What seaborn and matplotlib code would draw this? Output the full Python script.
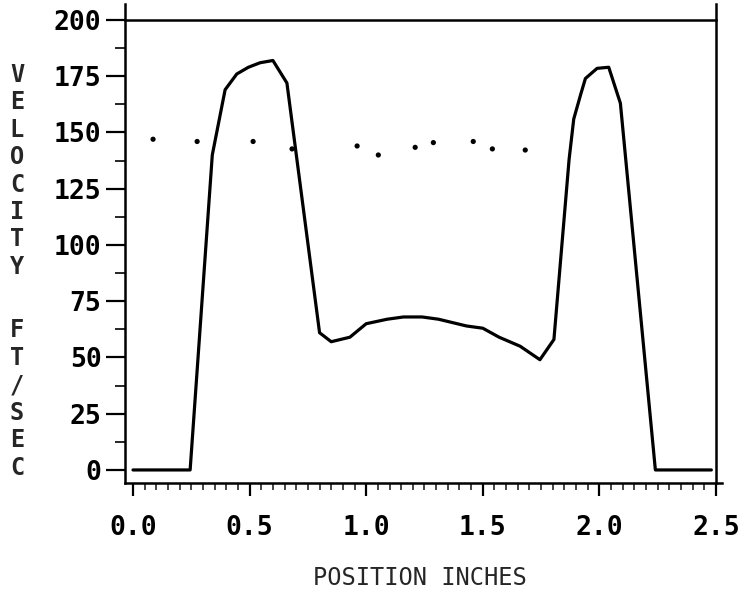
import numpy as np
import pandas as pd
import matplotlib
matplotlib.use("Agg")
import matplotlib.pyplot as plt
import seaborn as sns
from matplotlib.ticker import MultipleLocator

# ---- data ----
position = [0.0, 0.245, 0.34, 0.395, 0.445, 0.495, 0.545, 0.60, 0.63, 0.66,
            0.80, 0.85, 0.93, 1.0, 1.09, 1.16, 1.24, 1.31, 1.43, 1.50, 1.57, 1.66,
            1.745, 1.805, 1.87, 1.89, 1.92, 1.94, 1.99, 2.04, 2.09, 2.24, 2.48]
velocity = [0, 0, 140, 169, 176, 179, 181, 182, 177, 172,
            61, 57, 59, 65, 67, 68, 68, 67, 64, 63, 59, 55,
            49, 58, 138, 156, 167, 174, 178.5, 179, 163, 0, 0]

dot_position = [0.086, 0.275, 0.515, 0.682, 0.961, 1.052, 1.21, 1.288, 1.459, 1.541, 1.682]
dot_velocity = [147, 146, 146, 142.7, 144, 140, 143.4, 145.5, 146, 142.7, 142.2]

x_ticks = [0.0, 0.5, 1.0, 1.5, 2.0, 2.5]
x_tick_labels = ["0.0", "0.5", "1.0", "1.5", "2.0", "2.5"]
y_ticks = [0, 25, 50, 75, 100, 125, 150, 175, 200]
y_tick_labels = ["0", "25", "50", "75", "100", "125", "150", "175", "200"]
y_label_top = list("VELOCITY")
y_label_bottom = list("FT/SEC")
x_label = "POSITION INCHES"

sns.set_theme(style="ticks")
plt.rcParams['font.family'] = ['DejaVu Sans Mono', 'DejaVu Sans']

W, H = 750, 608
fig = plt.figure(figsize=(W / 100, H / 100), dpi=100)
ax = fig.add_axes([125 / W, 125 / H, (716 - 125) / W, (588 - 125) / H])

df = pd.DataFrame({"position": position, "velocity": velocity})
sns.lineplot(data=df, x="position", y="velocity", ax=ax, color="black",
             linewidth=2.3, sort=False, estimator=None)
dots = pd.DataFrame({"position": dot_position, "velocity": dot_velocity})
sns.scatterplot(data=dots, x="position", y="velocity", ax=ax, color="black",
                s=14, edgecolor="none")

ax.set_xlim(-0.0343, 2.5)
ax.set_ylim(-5.8, 200)
ax.set_xticks(x_ticks)
ax.set_xticklabels(x_tick_labels)
ax.set_yticks(y_ticks)
ax.set_yticklabels(y_tick_labels)
ax.xaxis.set_minor_locator(MultipleLocator(0.05))
ax.yaxis.set_minor_locator(MultipleLocator(12.5))
ax.set_xlabel("")
ax.set_ylabel("")

for s in ax.spines.values():
    s.set_visible(True)
    s.set_linewidth(1.8)
    s.set_color("black")
ax.spines['left'].set_bounds(-5.8, 207)
ax.spines['right'].set_bounds(-5.8, 207)
ax.spines['bottom'].set_bounds(-0.0343, 2.525)

ax.tick_params(axis='y', which='major', length=14, width=1.6, direction='out',
               pad=3, labelsize=19, colors='black')
ax.tick_params(axis='y', which='minor', length=7, width=1.4, direction='out')
ax.tick_params(axis='x', which='major', length=9, width=1.6, direction='out',
               pad=14, labelsize=19, colors='black')
ax.tick_params(axis='x', which='minor', length=5, width=1.2, direction='out')
for lab in ax.get_xticklabels() + ax.get_yticklabels():
    lab.set_fontweight('bold')

# stacked vertical axis title
for i, ch in enumerate(y_label_top):
    fig.text(17 / W, 1 - (75 + 27.4 * i) / H, ch, ha='center', va='center',
             fontsize=17, fontweight='bold')
for i, ch in enumerate(y_label_bottom):
    fig.text(17 / W, 1 - (330 + 27.6 * i) / H, ch, ha='center', va='center',
             fontsize=17, fontweight='bold')

fig.text(420 / W, 1 - 578 / H, x_label, ha='center', va='center', fontsize=17)

fig.savefig("out.png", dpi=100, facecolor="white")
